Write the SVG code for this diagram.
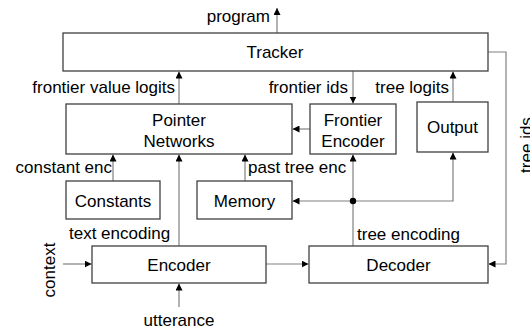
<svg xmlns="http://www.w3.org/2000/svg" width="530" height="329" viewBox="0 0 530 329">
<defs>
<marker id="ah" viewBox="0 0 10 10" refX="10" refY="5" markerWidth="7" markerHeight="7" markerUnits="userSpaceOnUse" orient="auto">
<path d="M0,0 L10,5 L0,10 z" fill="#000"/>
</marker>
<style>
.box{fill:#fff;stroke:#404040;stroke-width:1.3}
.t{font-family:"Liberation Sans",Arial,sans-serif;font-size:17px;fill:#000}
.m{text-anchor:middle}
.e{text-anchor:end}
.c{fill:none;stroke:#808080;stroke-width:1.2}
.a{marker-end:url(#ah)}
</style>
</defs>
<rect width="530" height="329" fill="#fff"/>
<g id="connectors">
<path class="c a" d="M277,33 V8"/>
<path class="c a" d="M179,104 V71.5"/>
<path class="c a" d="M353,71 V103.5"/>
<path class="c a" d="M453,102 V71.5"/>
<path class="c a" d="M310,129 H292.5"/>
<path class="c a" d="M113,181 V154.5"/>
<path class="c a" d="M245,181 V154.5"/>
<path class="c a" d="M179,246 V154.5"/>
<path class="c a" d="M353,246 V154.5"/>
<path class="c a" d="M353,201 H292.5"/>
<path class="c a" d="M353,201 H453 V152.5"/>
<path class="c a" d="M488,52 H506 V264 H488.5"/>
<path class="c a" d="M266,264 H308.5"/>
<path class="c a" d="M63,264 H91.5"/>
<path class="c a" d="M179,307 V283.5"/>
<circle cx="353" cy="201" r="3.2" fill="#000"/>
<text class="t e" x="270" y="22">program</text>
<text class="t e" x="175" y="93">frontier value logits</text>
<text class="t e" x="348" y="93">frontier ids</text>
<text class="t e" x="449" y="93">tree logits</text>
<text class="t e" x="112" y="173">constant enc</text>
<text class="t" x="248" y="173">past tree enc</text>
<text class="t" x="69" y="239">text encoding</text>
<text class="t" x="357" y="240">tree encoding</text>
<text class="t m" transform="translate(532,145) rotate(-90)">tree ids</text>
<text class="t m" transform="translate(55,270) rotate(-90)">context</text>
<text class="t m" x="179" y="326">utterance</text>
</g>
<g id="tracker"><rect class="box" x="63" y="33" width="425" height="38"/><text class="t m" x="275" y="58">Tracker</text></g>
<g id="pointer"><rect class="box" x="66" y="104" width="226" height="50"/><text class="t m" x="179" y="126">Pointer</text><text class="t m" x="179" y="147">Networks</text></g>
<g id="frontier"><rect class="box" x="310" y="104" width="86" height="50"/><text class="t m" x="353" y="126">Frontier</text><text class="t m" x="353" y="147">Encoder</text></g>
<g id="output"><rect class="box" x="417" y="102" width="71" height="50"/><text class="t m" x="452.5" y="133">Output</text></g>
<g id="constants"><rect class="box" x="66" y="181" width="94" height="38"/><text class="t m" x="113" y="207">Constants</text></g>
<g id="memory"><rect class="box" x="197" y="181" width="95" height="38"/><text class="t m" x="244.5" y="207">Memory</text></g>
<g id="encoder"><rect class="box" x="92" y="246" width="174" height="37"/><text class="t m" x="179" y="271">Encoder</text></g>
<g id="decoder"><rect class="box" x="309" y="246" width="179" height="37"/><text class="t m" x="398.5" y="271">Decoder</text></g>
</svg>
